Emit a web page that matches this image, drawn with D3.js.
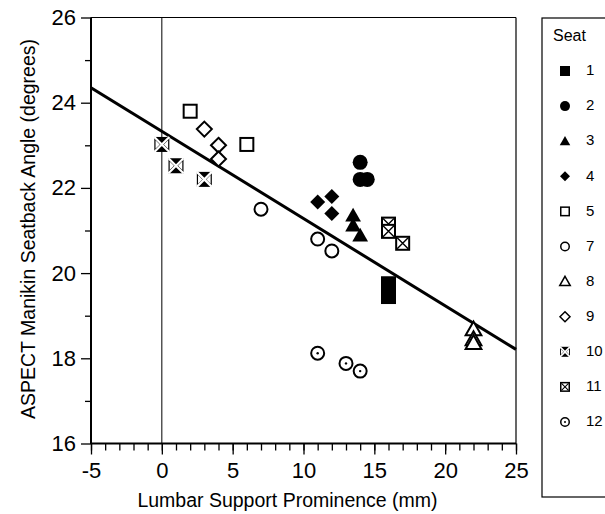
<!DOCTYPE html>
<html><head><meta charset="utf-8">
<script src="https://cdn.jsdelivr.net/npm/d3@7"></script>
<style>
body{margin:0;background:#fff}
svg{display:block}
text{font-family:Arial,"Liberation Sans",sans-serif;fill:#000}
</style>
</head><body>
<svg id="c" width="605" height="514"></svg>
<script>
// ---------- data ----------
const xDomain = [-5, 25];
const yDomain = [16, 26];
const xTicks = [-5, 0, 5, 10, 15, 20, 25];
const yTicks = [16, 18, 20, 22, 24, 26];
const seatLabels = ["1", "2", "3", "4", "5", "7", "8", "9", "10", "11", "12"];
const pointSeat = ["1","1","1", "2","2","2", "3","3","3", "4","4","4", "5","5", "7","7","7", "8","8","8", "9","9","9", "10","10","10", "11","11","11", "12","12","12"];
const pointX    = [16,16,16, 14,14,14.5, 13.5,13.5,14, 11,12,12, 2,6, 7,11,12, 22,22,22, 3,4,4, 0,1,3, 16,16,17, 11,13,14];
const pointY    = [19.75,19.6,19.45, 22.6,22.2,22.2, 21.35,21.12,20.88, 21.67,21.8,21.4, 23.8,23.02, 21.5,20.8,20.52, 18.68,18.45,18.36, 23.38,23.0,22.68, 23.02,22.52,22.2, 21.15,20.98,20.7, 18.12,17.88,17.7];
const fitX = [-5, 25];
const fitY = [24.35, 18.21];
const xTitle = "Lumbar Support Prominence (mm)";
const yTitle = "ASPECT Manikin Seatback Angle (degrees)";
const legendTitle = "Seat";

// ---------- layout ----------
const svg = d3.select("#c");
const x = d3.scaleLinear(xDomain, [91, 516]);
const y = d3.scaleLinear(yDomain, [443.5, 17.5]);
const fmt = d => String(d);

// frame (top, right)
svg.append("line").attr("x1", x(-5)).attr("x2", x(25)).attr("y1", y(26)).attr("y2", y(26)).attr("stroke", "#000").attr("stroke-width", 1.2);
svg.append("line").attr("x1", x(25)).attr("x2", x(25)).attr("y1", y(26)).attr("y2", y(16)).attr("stroke", "#000").attr("stroke-width", 1.2);
// zero reference line
svg.append("line").attr("x1", x(0)).attr("x2", x(0)).attr("y1", y(26)).attr("y2", y(16)).attr("stroke", "#000").attr("stroke-width", 1);

// minor ticks
const xMinor = svg.append("g").attr("transform", `translate(0,${y(16)})`)
  .call(d3.axisBottom(x).tickValues(d3.range(-5, 26, 1)).tickSize(7).tickFormat(""));
const yMinor = svg.append("g").attr("transform", `translate(${x(-5)},0)`)
  .call(d3.axisLeft(y).tickValues(d3.range(17, 26, 2)).tickSize(6).tickFormat(""));
// major axes
const xAxis = svg.append("g").attr("transform", `translate(0,${y(16)})`)
  .call(d3.axisBottom(x).tickValues(xTicks).tickSize(11).tickPadding(8).tickFormat(fmt));
const yAxis = svg.append("g").attr("transform", `translate(${x(-5)},0)`)
  .call(d3.axisLeft(y).tickValues(yTicks).tickSize(10).tickPadding(5).tickFormat(fmt));
[xMinor, yMinor, xAxis, yAxis].forEach(g => {
  g.select(".domain").remove();
  g.selectAll(".tick line").attr("stroke", "#000").attr("stroke-width", 1.3);
  g.selectAll("text").style("font-size", "22px").attr("fill", "#000")
    .style("font-family", "Arial, 'Liberation Sans', sans-serif");
});
xAxis.selectAll("text").attr("dy", "0.71em");
// axis lines
svg.append("line").attr("x1", x(-5)).attr("x2", x(25)).attr("y1", y(16)).attr("y2", y(16)).attr("stroke", "#000").attr("stroke-width", 2);
svg.append("line").attr("x1", x(-5)).attr("x2", x(-5)).attr("y1", y(26)).attr("y2", y(16) + 0.5).attr("stroke", "#000").attr("stroke-width", 2);

// titles
svg.append("text").attr("x", 287.5).attr("y", 507).attr("text-anchor", "middle")
  .style("font-size", "19.5px").text(xTitle);
svg.append("text").attr("transform", "translate(34.5,229) rotate(-90)").attr("text-anchor", "middle")
  .style("font-size", "19.5px").text(yTitle);

// regression line
svg.append("line").attr("x1", x(fitX[0])).attr("y1", y(fitY[0])).attr("x2", x(fitX[1])).attr("y2", y(fitY[1]))
  .attr("stroke", "#000").attr("stroke-width", 3);

// ---------- symbols ----------
function drawSymbol(g, seat, s, sw) {
  const h = s / 2;
  const tri = `M0,${-h * 1.05}L${h * 1.05},${h * 0.8}L${-h * 1.05},${h * 0.8}Z`;
  const dia = `M0,${-h}L${h},0L0,${h}L${-h},0Z`;
  const open = sel => sel.attr("fill", "#fff").attr("stroke", "#000").attr("stroke-width", sw);
  switch (seat) {
    case "1": g.append("rect").attr("x", -h).attr("y", -h).attr("width", s).attr("height", s).attr("fill", "#000"); break;
    case "2": g.append("circle").attr("r", h).attr("fill", "#000"); break;
    case "3": g.append("path").attr("d", tri).attr("fill", "#000"); break;
    case "4": g.append("path").attr("d", dia).attr("fill", "#000"); break;
    case "5": open(g.append("rect").attr("x", -h + sw / 2).attr("y", -h + sw / 2).attr("width", s - sw).attr("height", s - sw)); break;
    case "7": open(g.append("circle").attr("r", h - sw / 2)); break;
    case "8": open(g.append("path").attr("d", tri)); break;
    case "9": open(g.append("path").attr("d", dia)); break;
    case "10":
      g.append("rect").attr("x", -h).attr("y", -h).attr("width", s).attr("height", s).attr("fill", "#000");
      g.append("path").attr("d", `M${-h},${-h}L${h},${h}M${h},${-h}L${-h},${h}`).attr("stroke", "#fff").attr("stroke-width", sw * 1.1);
      g.append("path").attr("d", `M${-h + sw * 0.6},${-h + sw * 1.6}L${-sw},0L${-h + sw * 0.6},${h - sw * 1.6}Z M${h - sw * 0.6},${-h + sw * 1.6}L${sw},0L${h - sw * 0.6},${h - sw * 1.6}Z`).attr("fill", "#fff");
      break;
    case "11":
      open(g.append("rect").attr("x", -h + sw / 2).attr("y", -h + sw / 2).attr("width", s - sw).attr("height", s - sw));
      g.append("path").attr("d", `M${-h + sw},${-h + sw}L${h - sw},${h - sw}M${h - sw},${-h + sw}L${-h + sw},${h - sw}`).attr("stroke", "#000").attr("stroke-width", sw * 0.7);
      break;
    case "12":
      open(g.append("circle").attr("r", h - sw / 2));
      g.append("circle").attr("r", Math.max(1, sw * 0.6)).attr("fill", "#000");
      break;
  }
}

// points
const pts = pointSeat.map((s, i) => ({ seat: s, x: pointX[i], y: pointY[i] }));
svg.append("g").selectAll("g").data(pts).join("g")
  .attr("transform", d => `translate(${x(d.x)},${y(d.y)})`)
  .each(function (d) { drawSymbol(d3.select(this), d.seat, 15, 2); });

// ---------- legend ----------
svg.append("rect").attr("x", 542).attr("y", 18).attr("width", 80).attr("height", 479)
  .attr("fill", "none").attr("stroke", "#000").attr("stroke-width", 1.2);
svg.append("text").attr("x", 553).attr("y", 41).style("font-size", "16px").text(legendTitle);
const ly = d3.scalePoint(seatLabels, [70, 421]);
const items = svg.append("g").selectAll("g").data(seatLabels).join("g")
  .attr("transform", d => `translate(0,${ly(d)})`);
items.append("g").attr("transform", "translate(565,1)").each(function (d) { drawSymbol(d3.select(this), d, 10, 1.5); });
items.append("text").attr("x", 586).attr("dy", "0.35em").style("font-size", "15px").text(d => d);
</script>
</body></html>
